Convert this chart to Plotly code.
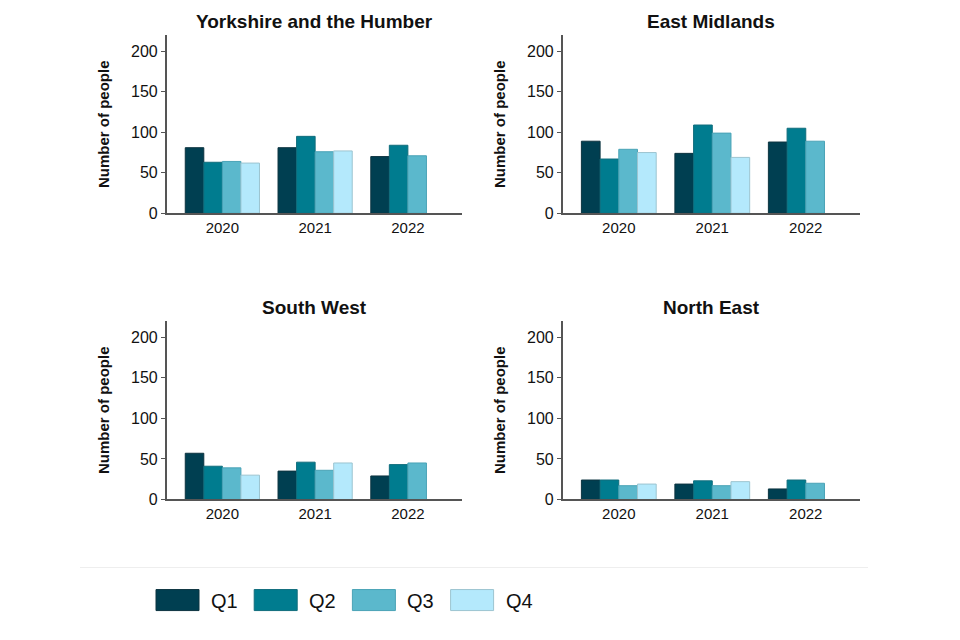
import plotly.graph_objects as go
from plotly.subplots import make_subplots

# data
years = ["2020", "2021", "2022"]
quarters = ["Q1", "Q2", "Q3", "Q4"]
regions = ["Yorkshire and the Humber", "East Midlands", "South West", "North East"]

yorkshire = {
    "Q1": [81, 81, 70],
    "Q2": [63, 95, 84],
    "Q3": [64, 76, 71],
    "Q4": [62, 77, None],
}
east_midlands = {
    "Q1": [89, 74, 88],
    "Q2": [67, 109, 105],
    "Q3": [79, 99, 89],
    "Q4": [75, 69, None],
}
south_west = {
    "Q1": [57, 35, 29],
    "Q2": [41, 46, 43],
    "Q3": [39, 36, 45],
    "Q4": [30, 45, None],
}
north_east = {
    "Q1": [24, 19, 13],
    "Q2": [24, 23, 24],
    "Q3": [17, 17, 20],
    "Q4": [19, 22, None],
}
region_data = [yorkshire, east_midlands, south_west, north_east]

colours = {"Q1": "#003f51", "Q2": "#007c8f", "Q3": "#5bb8cc", "Q4": "#b4e9fc"}
outlines = {"Q1": "#0d3440", "Q2": "#106d7c", "Q3": "#4aa3b6", "Q4": "#9cc4d0"}

FONT = "Liberation Sans, Arial, sans-serif"

# page has an 8px body margin; the capture also comes out a little squashed
# vertically, so stretch y positions slightly to compensate
W, H, OFF = 944, 632, 8
SY = 1.0152


def px_x(p):
    return (p - OFF) / W


def px_y(p):
    return 1 - (p * SY - OFF) / H


fig = make_subplots(rows=2, cols=2, horizontal_spacing=0.1, vertical_spacing=0.1)

positions = [(1, 1), (1, 2), (2, 1), (2, 2)]
for data, (r, c) in zip(region_data, positions):
    for q in quarters:
        fig.add_trace(
            go.Bar(
                x=years,
                y=data[q],
                name=q,
                marker=dict(color=colours[q], line=dict(color=outlines[q], width=1)),
                showlegend=False,
                hovertemplate="%{x} " + q + ": %{y}<extra></extra>",
            ),
            row=r, col=c,
        )

# panel edges in page pixels
x_edges = [(166.7, 461.7), (562.7, 860)]
y_edges = [(35, 213), (320.7, 499)]
x_doms = [[px_x(a), px_x(b)] for a, b in x_edges]
y_doms = [[px_y(b), px_y(a)] for a, b in y_edges]

for i, (r, c) in enumerate(positions):
    n = "" if i == 0 else str(i + 1)
    fig.layout["xaxis" + n].update(
        domain=x_doms[c - 1],
        range=[-0.6, 2.58],
        showline=True, linecolor="#555555", linewidth=1.5,
        ticks="", showgrid=False, zeroline=False,
        tickfont=dict(size=15, color="#111111", family=FONT),
    )
    fig.layout["yaxis" + n].update(
        domain=y_doms[r - 1],
        range=[0, 220],
        tickvals=[0, 50, 100, 150, 200],
        showline=True, linecolor="#555555", linewidth=1.5,
        ticks="outside", ticklen=4, tickcolor="#555555",
        showgrid=False, zeroline=False,
        tickfont=dict(size=16, color="#111111", family=FONT),
        title=dict(text="<b>Number of people</b>", standoff=18,
                   font=dict(size=15, color="#111111", family=FONT)),
    )
    # panel title
    fig.add_annotation(
        text="<b>" + regions[i] + "</b>",
        xref="paper", yref="paper",
        x=sum(x_doms[c - 1]) / 2, y=px_y(y_edges[r - 1][0] - 14),
        xanchor="center", yanchor="middle", showarrow=False,
        font=dict(size=19, color="#111111", family=FONT),
    )

# faint separator above the legend
fig.add_shape(type="line", xref="paper", yref="paper",
              x0=px_x(80), x1=px_x(868), y0=px_y(567), y1=px_y(567),
              line=dict(color="#eeeeee", width=1))

# legend drawn as large swatches
for k, q in enumerate(quarters):
    left = 156 + k * 98.2
    fig.add_shape(type="rect", xref="paper", yref="paper",
                  x0=px_x(left), x1=px_x(left + 43),
                  y0=px_y(610), y1=px_y(589),
                  fillcolor=colours[q], line=dict(color=outlines[q], width=1))
    fig.add_annotation(text=q, xref="paper", yref="paper",
                       x=px_x(left + 53), y=px_y(600),
                       xanchor="left", yanchor="middle", showarrow=False,
                       font=dict(size=20, color="#111111",
                                 family="Liberation Sans Narrow, Liberation Sans, Arial, sans-serif"))

fig.update_layout(
    width=W, height=H,
    margin=dict(l=0, r=0, t=0, b=0),
    barmode="group", bargap=0.2, bargroupgap=0,
    plot_bgcolor="white", paper_bgcolor="white",
    showlegend=False,
)

fig.write_html("out.html")
